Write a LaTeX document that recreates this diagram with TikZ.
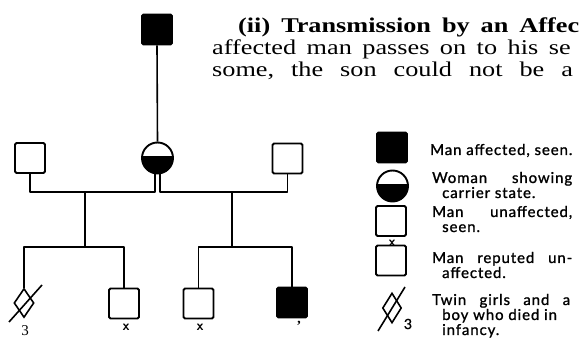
\documentclass[tikz,border=0pt]{standalone}
\usepackage{fontspec}
\setmainfont{Liberation Serif}
\newfontfamily\txtfont[FakeStretch=1.25]{Liberation Serif}
\newfontfamily\legfont[LetterSpace=6,FakeBold=1.2]{Lato}
\usetikzlibrary{shapes.geometric}
\tikzset{
  pline/.style={line width=1.6pt,line join=round},
  man/.style={draw,line width=1.9pt,minimum size=30pt,inner sep=0pt,rounded corners=1.5pt},
  affected/.style={man,fill=black},
  carrier/.style={circle,draw,line width=1.9pt,minimum size=31pt,inner sep=0pt,
    path picture={\fill[black]([yshift=1.5pt]path picture bounding box.west) rectangle (path picture bounding box.south east);}},
  twin/.style={diamond,draw,line width=1.6pt,minimum width=20pt,minimum height=29pt,inner sep=0pt},
  xmark/.style={inner sep=0pt,font=\sffamily\bfseries\fontsize{14}{14}\selectfont},
  leg/.style={anchor=base west,inner sep=0pt,font=\legfont\fontsize{15}{15}\selectfont},
  txt/.style={anchor=base west,inner sep=0pt,font=\txtfont\fontsize{21}{22}\selectfont}
}
\begin{document}
\begin{tikzpicture}[x=1pt,y=-1pt]
\useasboundingbox (0,0) rectangle (579,339);
% text of the page
\node[txt] (ln1) at (238,33) {\bfseries\spaceskip=11pt (ii) Transmission by an Affec};
\node[txt] (ln2) at (212,55) {\spaceskip=10.5pt affected man passes on to his se};
\node[txt] (ln3) at (212,77) {\spaceskip=17pt some, the son could not be a};
% pedigree
\node[affected] (father) at (157,29.5) {};
\node[carrier] (mother) at (157.5,158) {};
\node[man] (lhusb) at (30,158) {};
\node[man] (rhusb) at (287.5,158.5) {};
\node[twin] (twins) at (24,303) {};
\node[man] (lson) at (124,303.5) {};
\node[man] (rson) at (198.5,303.5) {};
\node[affected] (raff) at (292,302.5) {};
\path (85,192) coordinate (lj) (85,247) coordinate (lk)
      (232,192) coordinate (rj) (232,247) coordinate (rk);
\draw[pline] (father.south)--(mother.north);%father to daughter
\draw[pline] ([xshift=-2.5pt]mother.south)|-(lj)-|(lhusb.south);%first marriage
\draw[pline] ([xshift=2.5pt]mother.south)|-(rj)-|(rhusb.south);%second marriage
\draw[pline] (lj)--(lk) (rj)--(rk);
\draw[pline] (twins.north)|-(lk)-|(lson.north);
\draw[pline] (rson.north)|-(rk)-|(raff.north);
\draw[pline] (twins)+(-15,19)--+(18,-18);%died in infancy
\node[font=\fontsize{15}{15}\selectfont,inner sep=0pt] (n3) at (25,331) {3};
\node[xmark] (xl) at (126,327) {x};
\node[xmark] (xr) at (200,327) {x};
\node[anchor=north,inner sep=0pt,font=\bfseries\fontsize{14}{14}\selectfont] (tk) at (299,321) {\textquoteright};
% key
\node[affected] (kaff) at (392,147.5) {};
\node[carrier] (kcar) at (392.5,186) {};
\node[man] (kseen) at (391,221) {};
\node[man] (krep) at (391,260.5) {};
\node[twin,minimum width=19pt,minimum height=30pt] (ktwin) at (392,308) {};
\draw[pline] (ktwin)+(-14,23)--+(13,-21);
\node[xmark] (kx) at (392,243) {x};
\node[inner sep=0pt,font=\legfont\fontsize{14}{14}\selectfont] (k3) at (408,324) {3};
\node[leg] (t1) at (430,155) {Man affected, seen.};
\node[leg] (t2) at (432,183) {\makebox[140pt][s]{Woman showing}};
\node[leg] (t2b) at (442,198) {carrier state.};
\node[leg] (t3) at (432,217) {\makebox[140pt][s]{Man unaffected,}};
\node[leg] (t3b) at (442,232) {seen.};
\node[leg] (t4) at (432,263) {\makebox[140pt][s]{Man reputed un-}};
\node[leg] (t4b) at (442,278) {affected.};
\node[leg] (t5) at (432,305) {\makebox[138pt][s]{Twin girls and a}};
\node[leg] (t5b) at (442,320) {boy who died in};
\node[leg] (t5c) at (442,335) {infancy.};
\end{tikzpicture}
\end{document}
